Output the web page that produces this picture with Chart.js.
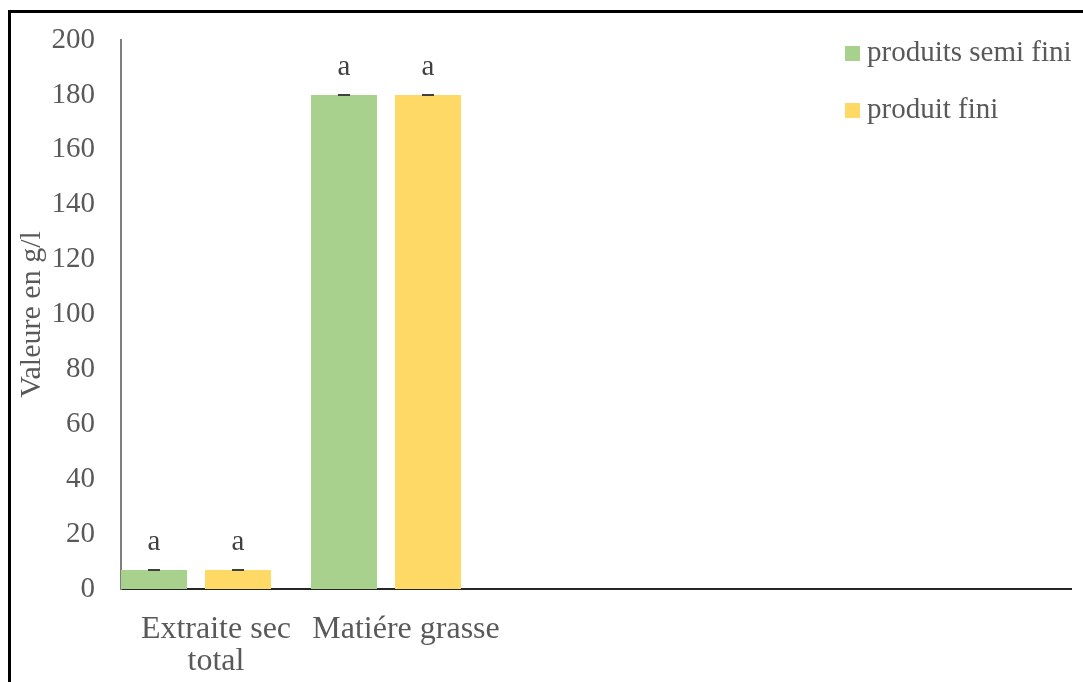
<!DOCTYPE html>
<html>
<head>
    <title>Valeure en g/l</title>
    <script src="https://cdn.jsdelivr.net/npm/chart.js"></script>
    <style>
        body {
            margin: 0;
            background: #ffffff;
        }

        /* black frame, only top and left edges are visible in the picture */
        .frame {
            position: absolute;
            left: 8px;
            top: 10px;
            width: 1200px;
            height: 800px;
            border-top: 3px solid #000000;
            border-left: 3px solid #000000;
        }

        .chart-box {
            position: absolute;
            left: 0;
            top: 0;
            width: 1083px;
            height: 682px;
            overflow: hidden;
        }
    </style>
</head>
<body>
    <div class="chart-box">
        <div class="frame"></div>
        <canvas id="valeure-bar-chart"></canvas>
    </div>

    <script>
        // data
        const categories = [['Extraite sec', 'total'], 'Matiére grasse', '', '', ''];
        const semiFini = [6.9, 180, null, null, null];
        const produitFini = [6.9, 180, null, null, null];
        const semiFiniErr = [0, 0, null, null, null];
        const produitFiniErr = [0, 0, null, null, null];
        const semiFiniLetters = ['a', 'a', '', '', ''];
        const produitFiniLetters = ['a', 'a', '', '', ''];
        const yTicks = [0, 20, 40, 60, 80, 100, 120, 140, 160, 180, 200];

        const textColor = '#595959';
        const fontFamily = '"Liberation Serif", "Times New Roman", serif';
        const fontSize = 29;

        const errors = [semiFiniErr, produitFiniErr];
        const letters = [semiFiniLetters, produitFiniLetters];

        // bars sit left of the category centre in the original, shift them
        const barShift = -20;

        const extrasPlugin = {
            id: 'extras',
            beforeDatasetsDraw(chart) {
                chart.ctx.save();
                chart.ctx.translate(barShift, 0);
            },
            afterDatasetsDraw(chart) {
                const ctx = chart.ctx;
                const y = chart.scales.y;
                chart.data.datasets.forEach((ds, di) => {
                    const meta = chart.getDatasetMeta(di);
                    meta.data.forEach((bar, i) => {
                        const v = ds.data[i];
                        if (v === null) return;
                        const err = errors[di][i];
                        const top = y.getPixelForValue(v + err);
                        const bottom = y.getPixelForValue(v - err);
                        // error bar with caps
                        ctx.strokeStyle = '#404040';
                        ctx.lineWidth = 2;
                        ctx.beginPath();
                        ctx.moveTo(bar.x, top);
                        ctx.lineTo(bar.x, bottom);
                        ctx.moveTo(bar.x - 6, top);
                        ctx.lineTo(bar.x + 6, top);
                        ctx.moveTo(bar.x - 6, bottom);
                        ctx.lineTo(bar.x + 6, bottom);
                        ctx.stroke();
                        // significance letter
                        ctx.fillStyle = '#404040';
                        ctx.font = fontSize + 'px ' + fontFamily;
                        ctx.textAlign = 'center';
                        ctx.textBaseline = 'middle';
                        ctx.fillText(letters[di][i], bar.x, top - 28);
                    });
                });
                ctx.restore();

                // legend inside the plot area
                ctx.save();
                ctx.font = fontSize + 'px ' + fontFamily;
                ctx.textAlign = 'left';
                ctx.textBaseline = 'middle';
                chart.data.datasets.forEach((ds, di) => {
                    const ly = 53 + di * 57;
                    ctx.fillStyle = ds.backgroundColor;
                    ctx.fillRect(845, ly - 7, 15, 15);
                    ctx.fillStyle = textColor;
                    ctx.fillText(ds.label, 867, ly);
                });
                ctx.restore();
            }
        };

        const ctx = document.getElementById('valeure-bar-chart').getContext('2d');
        new Chart(ctx, {
            type: 'bar',
            data: {
                labels: categories,
                datasets: [{
                    label: 'produits semi fini',
                    data: semiFini,
                    backgroundColor: '#A9D18E',
                    categoryPercentage: 0.884,
                    barPercentage: 0.786
                }, {
                    label: 'produit fini',
                    data: produitFini,
                    backgroundColor: '#FFD966',
                    categoryPercentage: 0.884,
                    barPercentage: 0.786
                }]
            },
            options: {
                responsive: true,
                maintainAspectRatio: false,
                animation: false,
                layout: {
                    padding: { top: 40, right: 12, left: 0, bottom: 0 }
                },
                plugins: {
                    legend: { display: false },
                    tooltip: { enabled: false }
                },
                scales: {
                    x: {
                        grid: { display: false, drawTicks: false },
                        border: { display: true, color: '#262626', width: 2 },
                        ticks: {
                            color: textColor,
                            font: { family: fontFamily, size: 32, lineHeight: 1 },
                            padding: 25,
                            maxRotation: 0,
                            autoSkip: false
                        },
                        afterFit(scale) { scale.height = 93; }
                    },
                    y: {
                        min: 0,
                        max: 200,
                        grid: { display: false, drawTicks: false },
                        border: { display: true, color: '#7f7f7f', width: 2 },
                        afterBuildTicks(scale) {
                            scale.ticks = yTicks.map(v => ({ value: v }));
                        },
                        ticks: {
                            color: textColor,
                            font: { family: fontFamily, size: fontSize },
                            padding: 26
                        },
                        title: {
                            display: true,
                            text: 'Valeure en g/l',
                            color: textColor,
                            font: { family: fontFamily, size: 30 },
                            padding: { top: 14, bottom: 0 }
                        },
                        afterFit(scale) {
                            scale.width = 121;
                            scale.paddingTop = 0;
                            scale.paddingBottom = 0;
                        }
                    }
                }
            },
            plugins: [extrasPlugin]
        });
    </script>
</body>
</html>
